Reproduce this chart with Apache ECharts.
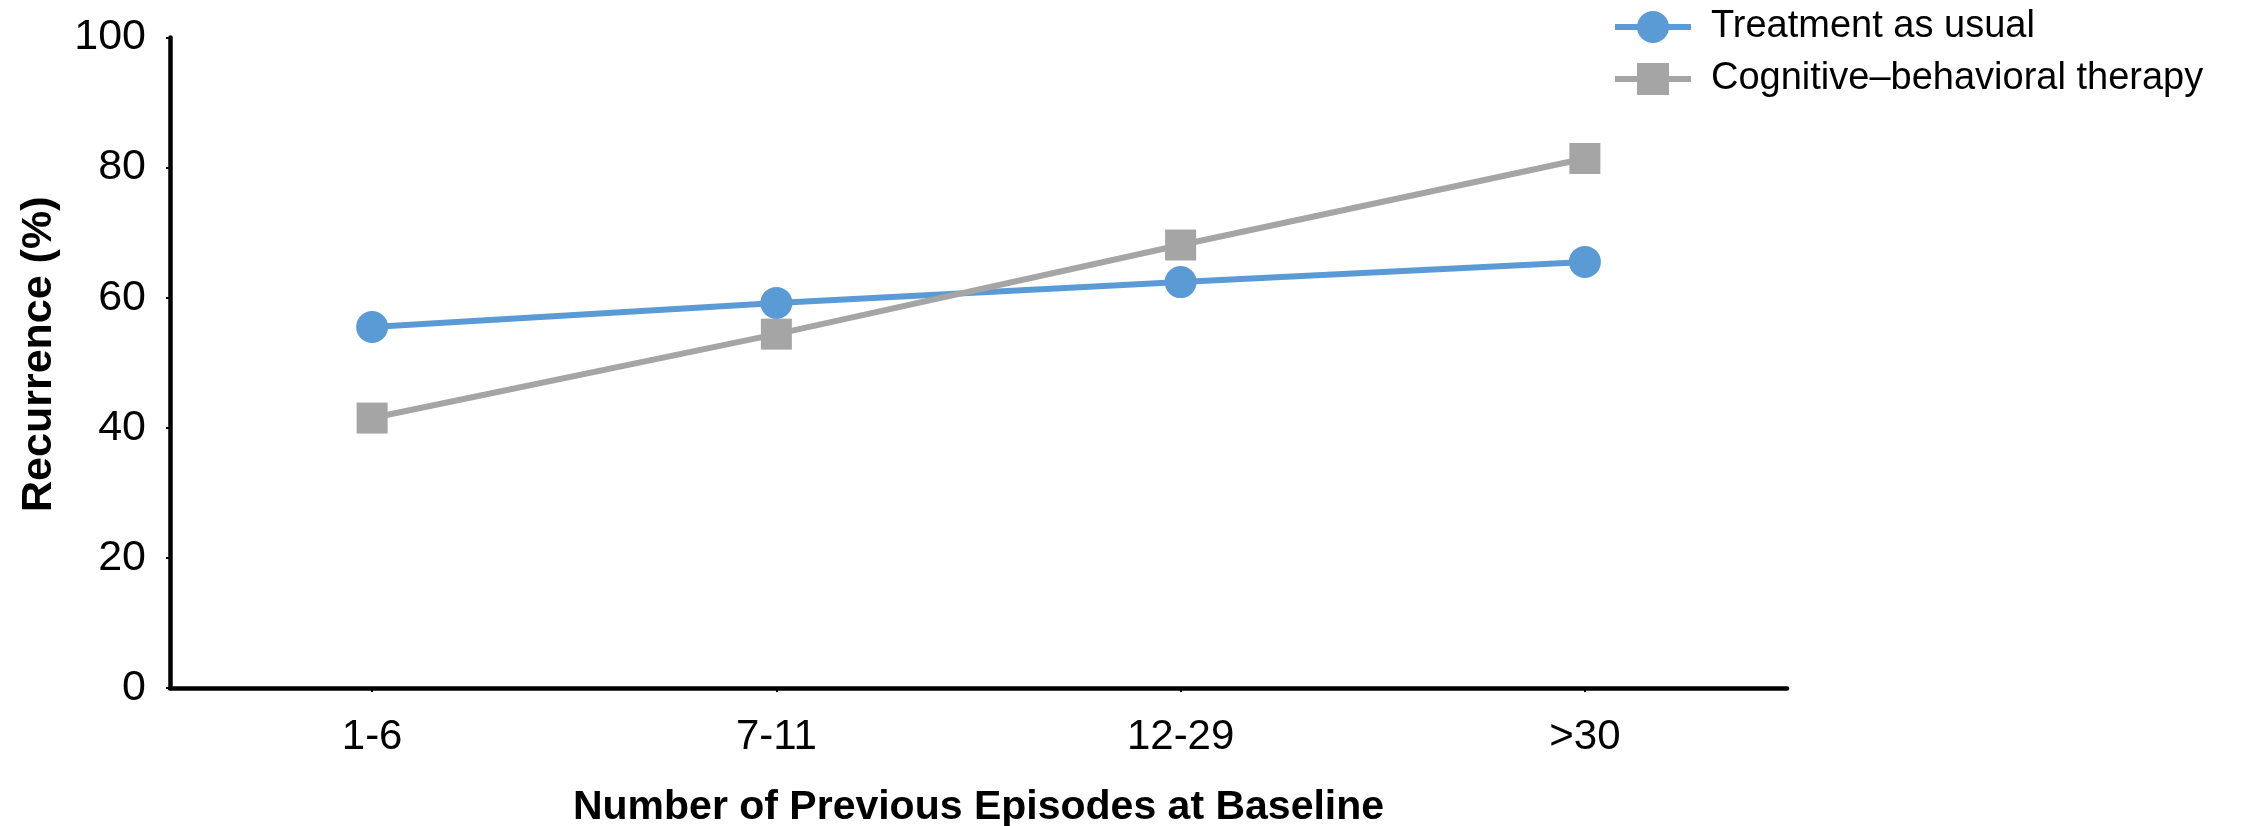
<!DOCTYPE html>
<html>
<head>
<meta charset="utf-8">
<script src="https://cdn.jsdelivr.net/npm/echarts@6/dist/echarts.min.js"></script>
<style>
html,body{margin:0;padding:0;background:#fff;}
#chart{width:2244px;height:826px;}
</style>
</head>
<body>
<div id="chart"></div>
<script>
const categories = ['1-6', '7-11', '12-29', '>30'];
const treatmentAsUsual = [55.5, 59.2, 62.4, 65.5];
const cognitiveBehavioral = [41.5, 54.4, 68.1, 81.4];
const yTicks = [0, 20, 40, 60, 80, 100];
const seriesNames = ['Treatment as usual', 'Cognitive\u2013behavioral therapy'];
const xTitle = 'Number of Previous Episodes at Baseline';
const yTitle = 'Recurrence (%)';

const chart = echarts.init(document.getElementById('chart'), null, {renderer: 'canvas'});
const font = '"Liberation Sans", Arial, sans-serif';
chart.setOption({
  animation: false,
  backgroundColor: '#ffffff',
  grid: {left: 170, right: 457, top: 37.5, height: 650.5, containLabel: false, outerBoundsMode: 'none'},
  legend: {
    left: 1612, top: 8,
    padding: 0,
    orient: 'vertical',
    itemWidth: 76, itemHeight: 40, itemGap: 14,
    lineStyle: {width: 6},
    textStyle: {fontFamily: font, fontSize: 38, color: '#000', padding: [0, 0, 0, 15]},
    data: seriesNames
  },
  xAxis: {
    type: 'category',
    data: categories,
    boundaryGap: true,
    axisLine: {lineStyle: {color: '#000', width: 4.5}},
    axisTick: {show: true, alignWithLabel: true, length: 4, lineStyle: {color: '#000', width: 2}},
    axisLabel: {fontFamily: font, fontSize: 42, color: '#000', margin: 28},
    name: xTitle,
    nameLocation: 'middle',
    nameGap: 99,
    nameTextStyle: {fontFamily: font, fontSize: 41, fontWeight: 'bold', color: '#000'}
  },
  yAxis: {
    type: 'value',
    min: yTicks[0], max: yTicks[yTicks.length - 1], interval: 20,
    splitLine: {show: false},
    axisLine: {show: true, lineStyle: {color: '#000', width: 4.5}},
    axisTick: {show: true, length: 4, lineStyle: {color: '#000', width: 2}},
    axisLabel: {fontFamily: font, fontSize: 43, color: '#000', margin: 24, padding: [9, 0, 0, 0]},
    name: yTitle,
    nameLocation: 'middle',
    nameGap: 109,
    nameRotate: 90,
    nameTextStyle: {fontFamily: font, fontSize: 43, fontWeight: 'bold', color: '#000', padding: [0, 0, 0, 17]}
  },
  series: [
    {
      name: seriesNames[0], type: 'line', data: treatmentAsUsual,
      symbol: 'circle', symbolSize: 32,
      lineStyle: {color: '#5B9BD5', width: 6},
      itemStyle: {color: '#5B9BD5'}
    },
    {
      name: seriesNames[1], type: 'line', data: cognitiveBehavioral,
      symbol: 'rect', symbolSize: 31,
      lineStyle: {color: '#A5A5A5', width: 6},
      itemStyle: {color: '#A5A5A5'}
    }
  ]
});
</script>
</body>
</html>
